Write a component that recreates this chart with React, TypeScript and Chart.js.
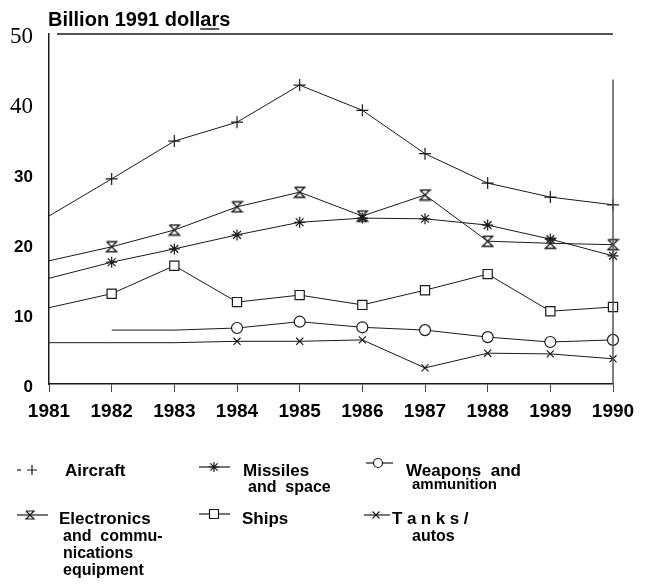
import React, { useEffect, useRef } from 'react';
import { Chart, registerables } from 'chart.js';

Chart.register(...registerables);

const years = ['1981', '1982', '1983', '1984', '1985', '1986', '1987', '1988', '1989', '1990'];
const aircraft = [24.0, 29.3, 34.7, 37.4, 42.7, 39.1, 32.9, 28.7, 26.7, 25.6];
const missiles = [15.1, 17.4, 19.3, 21.3, 23.1, 23.7, 23.6, 22.7, 20.7, 18.3];
const weapons = [null, 7.7, 7.7, 8.0, 8.9, 8.1, 7.7, 6.7, 6.0, 6.3];
const electronics = [17.6, 19.6, 22.0, 25.3, 27.4, 24.0, 27.0, 20.4, 20.1, 19.9];
const ships = [10.9, 12.9, 16.9, 11.7, 12.7, 11.3, 13.4, 15.7, 10.4, 11.0];
const tanks = [5.9, 5.9, 5.9, 6.1, 6.1, 6.3, 2.3, 4.4, 4.3, 3.6];
const yTicks = [0, 10, 20, 30, 40, 50];
const titleText = 'Billion 1991 dollars';

const SANS = '"Liberation Sans", Arial, sans-serif';
const SERIF = '"Liberation Serif", "Times New Roman", serif';
const INK = '#1a1a1a';

function drawMarker(ctx: CanvasRenderingContext2D, style: string, x: number, y: number, r: number) {
  ctx.beginPath();
  if (style === 'cross') {
    ctx.moveTo(x - r, y); ctx.lineTo(x + r, y);
    ctx.moveTo(x, y - r); ctx.lineTo(x, y + r);
    ctx.stroke();
  } else if (style === 'star') {
    ctx.moveTo(x - r, y); ctx.lineTo(x + r, y);
    ctx.moveTo(x, y - r); ctx.lineTo(x, y + r);
    const d = r * 0.72;
    ctx.moveTo(x - d, y - d); ctx.lineTo(x + d, y + d);
    ctx.moveTo(x + d, y - d); ctx.lineTo(x - d, y + d);
    ctx.stroke();
  } else if (style === 'circle') {
    ctx.arc(x, y, r, 0, Math.PI * 2);
    ctx.fillStyle = '#fff';
    ctx.fill();
    ctx.stroke();
  } else if (style === 'rect') {
    ctx.rect(x - r, y - r, 2 * r, 2 * r);
    ctx.fillStyle = '#fff';
    ctx.fill();
    ctx.stroke();
  } else if (style === 'crossRot') {
    ctx.moveTo(x - r, y - r); ctx.lineTo(x + r, y + r);
    ctx.moveTo(x + r, y - r); ctx.lineTo(x - r, y + r);
    ctx.stroke();
  } else if (style === 'hourglass') {
    ctx.moveTo(x - r, y - r); ctx.lineTo(x + r, y - r);
    ctx.lineTo(x - r, y + r); ctx.lineTo(x + r, y + r);
    ctx.lineTo(x - r, y - r);
    ctx.fillStyle = '#fff';
    ctx.fill();
    ctx.stroke();
  }
}

function makeHourglass(): HTMLCanvasElement {
  const c = document.createElement('canvas');
  c.width = 13; c.height = 13;
  const g = c.getContext('2d')!;
  g.strokeStyle = INK;
  g.lineWidth = 1.3;
  drawMarker(g, 'hourglass', 6.5, 6.5, 5);
  return c;
}

const framePlugin = {
  id: 'frameAndLegend',
  afterDraw(chart: any) {
    const { ctx, chartArea, scales } = chart;
    const ys = scales.y;
    ctx.save();
    // top frame line
    ctx.strokeStyle = INK;
    ctx.lineWidth = 1.5;
    ctx.beginPath();
    ctx.moveTo(chartArea.left + 8, chartArea.top);
    ctx.lineTo(chartArea.right, chartArea.top);
    ctx.stroke();
    // right frame line
    ctx.strokeStyle = '#555';
    ctx.beginPath();
    ctx.moveTo(chartArea.right, ys.getPixelForValue(43.5));
    ctx.lineTo(chartArea.right, chartArea.bottom);
    ctx.stroke();

    // title
    ctx.fillStyle = '#000';
    ctx.font = `bold 20px ${SANS}`;
    ctx.textAlign = 'left';
    ctx.textBaseline = 'alphabetic';
    const tx = 48, ty = 26;
    ctx.fillText(titleText, tx, ty);
    const pre = ctx.measureText('Billion 1991 doll').width;
    const ar = ctx.measureText('ar').width;
    ctx.lineWidth = 1.3;
    ctx.strokeStyle = '#000';
    ctx.beginPath();
    ctx.moveTo(tx + pre, ty + 3);
    ctx.lineTo(tx + pre + ar, ty + 3);
    ctx.stroke();

    // legend
    ctx.strokeStyle = INK;
    ctx.lineWidth = 1.2;
    const line = (x1: number, x2: number, y: number) => {
      ctx.beginPath(); ctx.moveTo(x1, y); ctx.lineTo(x2, y); ctx.stroke();
    };
    // Aircraft
    line(17, 21, 470);
    drawMarker(ctx, 'cross', 32, 470, 5);
    // Missiles
    line(199, 230, 467);
    drawMarker(ctx, 'star', 214, 467, 5);
    // Weapons
    line(366, 393, 463);
    drawMarker(ctx, 'circle', 378, 463, 4.5);
    // Electronics
    line(17, 48, 515);
    drawMarker(ctx, 'hourglass', 30, 515, 4);
    // Ships
    line(199, 230, 514);
    drawMarker(ctx, 'rect', 214, 514, 4.5);
    // Tanks
    line(364, 390, 515);
    drawMarker(ctx, 'crossRot', 376, 515, 3.5);

    ctx.fillStyle = '#000';
    ctx.font = `bold 17px ${SANS}`;
    ctx.fillText('Aircraft', 65, 476);
    ctx.fillText('Missiles', 243, 476);
    ctx.fillText('Weapons  and', 406, 476);
    ctx.fillText('Electronics', 59, 524);
    ctx.fillText('Ships', 242, 524);
    ctx.font = `bold 16px ${SANS}`;
    ctx.fillText('and  space', 248, 492);
    ctx.fillText('and  commu-', 63, 541);
    ctx.fillText('nications', 63, 558);
    ctx.fillText('equipment', 63, 575);
    ctx.fillText('autos', 412, 541);
    ctx.font = `bold 15px ${SANS}`;
    ctx.fillText('ammunition', 412, 489);
    ctx.font = `bold 17px ${SANS}`;
    const tk = ['T', 'a', 'n', 'k', 's', '/'];
    let x = 392;
    for (const ch of tk) {
      ctx.fillText(ch, x, 524);
      x += ctx.measureText(ch).width + 4.5;
    }
    ctx.restore();
  },
};

export default function App() {
  const ref = useRef<HTMLCanvasElement>(null);
  useEffect(() => {
    if (!ref.current) return;
    const hourglass = makeHourglass();
    const noFirst = (r: number) => years.map((_, i) => (i === 0 ? 0 : r));
    const base = {
      borderColor: INK,
      borderWidth: 1,
      pointBorderColor: INK,
      pointBackgroundColor: '#fff',
      pointBorderWidth: 1.2,
      tension: 0,
      fill: false,
      spanGaps: false,
    };
    const chart = new Chart(ref.current, {
      type: 'line',
      data: {
        labels: years,
        datasets: [
          { ...base, label: 'Aircraft', data: aircraft, pointStyle: 'cross', pointRadius: noFirst(6) },
          { ...base, label: 'Missiles and space', data: missiles, pointStyle: 'star', pointRadius: noFirst(5.5) },
          { ...base, label: 'Weapons and ammunition', data: weapons, pointStyle: 'circle', pointRadius: years.map((_, i) => (i < 3 ? 0 : 5.5)) },
          { ...base, label: 'Electronics and communications equipment', data: electronics, pointStyle: hourglass as any, pointRadius: noFirst(6) },
          { ...base, label: 'Ships', data: ships, pointStyle: 'rect', pointRadius: noFirst(6.5) },
          { ...base, label: 'Tanks/autos', data: tanks, pointStyle: 'crossRot', pointRadius: years.map((_, i) => (i < 3 ? 0 : 5)) },
        ] as any,
      },
      options: {
        animation: false,
        responsive: false,
        maintainAspectRatio: false,
        layout: { padding: { top: 34, right: 32, bottom: 160, left: 0 } },
        plugins: {
          legend: { display: false },
          title: { display: false },
          tooltip: { enabled: false },
        },
        scales: {
          x: {
            type: 'category',
            offset: false,
            grid: { display: true, drawOnChartArea: false, drawTicks: true, tickLength: 8, color: '#444' },
            border: { display: true, color: INK, width: 1.5 },
            ticks: {
              color: '#000',
              font: { family: SANS, size: 19, weight: 'bold' },
              padding: 8,
              maxRotation: 0,
              autoSkip: false,
            },
            afterFit: (s: any) => { s.height = 40; },
          },
          y: {
            type: 'linear',
            min: 0,
            max: 50,
            afterBuildTicks: (s: any) => { s.ticks = yTicks.map((v) => ({ value: v })); },
            grid: { display: false, drawTicks: false },
            border: { display: true, color: INK, width: 1.5 },
            ticks: {
              color: '#000',
              padding: 16,
              labelOffset: 3,
              font: (c: any) =>
                c.tick && c.tick.value >= 40
                  ? { family: SERIF, size: 23, weight: 'normal' }
                  : { family: SANS, size: 17, weight: 'bold' },
            },
            afterFit: (s: any) => { s.width = 49; },
          },
        },
      } as any,
      plugins: [framePlugin],
    });
    return () => chart.destroy();
  }, []);
  return (
    <div style={{ position: 'fixed', left: 0, top: 0, width: 645, height: 584, background: '#fff' }}>
      <canvas ref={ref} width={645} height={584} />
    </div>
  );
}
